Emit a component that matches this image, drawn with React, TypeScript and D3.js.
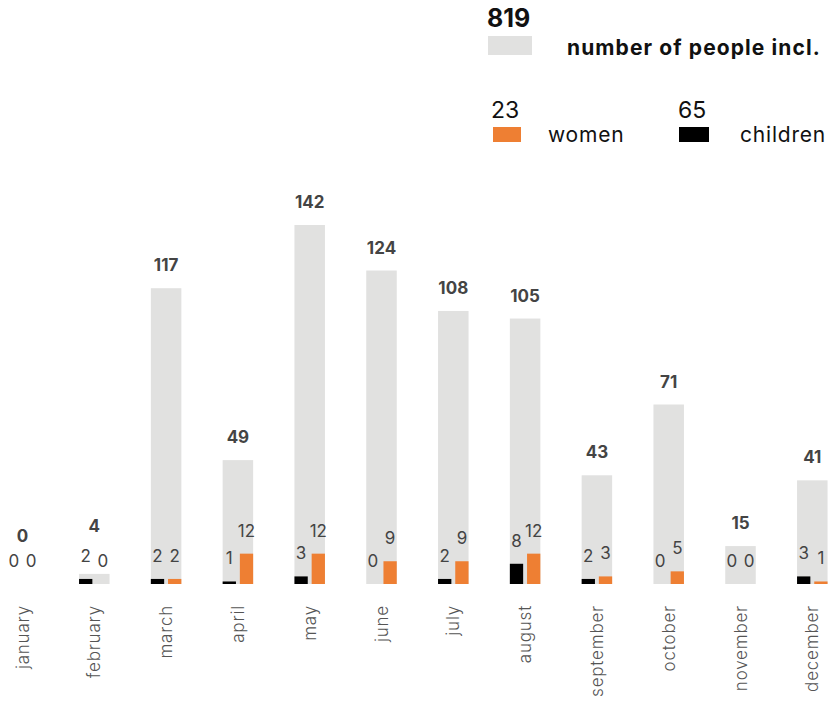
import React from "react";
import * as d3 from "d3";

const months = ["january","february","march","april","may","june","july","august","september","october","november","december"];
const totals = [0,4,117,49,142,124,108,105,43,71,15,41];
const children = [0,2,2,1,3,0,2,8,2,0,0,3];
const women = [0,0,2,12,12,9,9,12,3,5,0,1];
const legendTotal = "819";
const legendTotalLabel = "number of people incl.";
const legendWomen = "23";
const legendChildren = "65";

const W = 831, H = 701;
const FONT = "Inter, 'Open Sans', sans-serif";
const GRAY = "#e1e1e0";
const ORANGE = "#ee7f33";
const TXT = "#444";

export default function App() {
  const x = d3.scalePoint<string>().domain(months).range([22.5, 812.3]);
  const y = d3.scaleLinear().domain([0, 142]).range([584, 225]);
  const bw = 30.5;
  const sw = 13.3;
  return (
    <svg width={W} height={H} style={{ position: "absolute", left: 0, top: 0, fontFamily: FONT }}>
      {/* legend */}
      <text x={487} y={27} fontSize={25} fontWeight={700} fill="#111">{legendTotal}</text>
      <rect x={488} y={36} width={44} height={19} fill={GRAY} />
      <text x={567} y={55} fontSize={21} fontWeight={700} letterSpacing={1.1} fill="#111">{legendTotalLabel}</text>
      <text x={491} y={118} fontSize={23} fontWeight={400} fill="#111">{legendWomen}</text>
      <rect x={493} y={127} width={28} height={15} fill={ORANGE} />
      <text x={548} y={142} fontSize={21} fontWeight={400} letterSpacing={0.8} fill="#111">women</text>
      <text x={678} y={118} fontSize={23} fontWeight={400} fill="#111">{legendChildren}</text>
      <rect x={679} y={127} width={30} height={15} fill="#000" />
      <text x={740} y={142} fontSize={21} fontWeight={400} letterSpacing={0.8} fill="#111">children</text>

      {months.map((m, i) => {
        const cx = x(m)!;
        const left = cx - bw / 2;
        const bx = left;
        const ox = left + bw - sw;
        const labelVal = totals[i] < 10 ? totals[i] + 10 : totals[i];
        return (
          <g key={m}>
            <rect x={left} y={y(totals[i])} width={bw} height={y(0) - y(totals[i])} fill={GRAY} />
            <rect x={bx} y={y(children[i])} width={sw} height={y(0) - y(children[i])} fill="#000" />
            <rect x={ox} y={y(women[i])} width={sw} height={y(0) - y(women[i])} fill={ORANGE} />
            <text x={cx} y={y(labelVal) - 17} textAnchor="middle" fontSize={17} fontWeight={700} fill={TXT}>{totals[i]}</text>
            <text x={bx + sw / 2} y={y(children[i]) - 17} textAnchor="middle" fontSize={17} fill={TXT}>{children[i]}</text>
            <text x={ox + sw / 2} y={y(women[i]) - 17} textAnchor="middle" fontSize={17} fill={TXT}>{women[i]}</text>
            <text transform={`translate(${cx + 6},605) rotate(-90)`} textAnchor="end" fontSize={17} fontWeight={300} letterSpacing={0.8} fill="#555">{m}</text>
          </g>
        );
      })}
    </svg>
  );
}
